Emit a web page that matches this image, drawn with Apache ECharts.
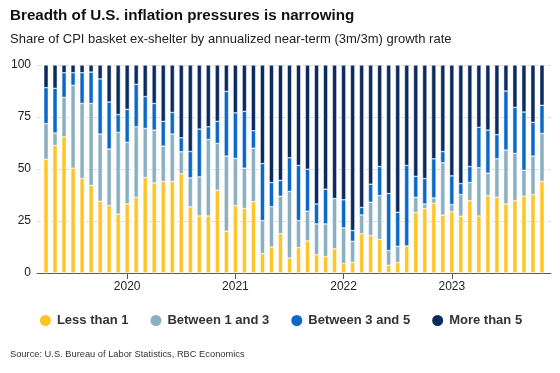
<!DOCTYPE html>
<html><head><meta charset="utf-8">
<script src="https://cdn.jsdelivr.net/npm/echarts@6/dist/echarts.min.js"></script>
<style>html,body{margin:0;padding:0;background:#fff}#c{width:560px;height:373px}</style>
</head><body><div id="c"></div>
<script>
// Months Apr 2019 .. Nov 2023
var months = [];
(function(){ var y=2019,m=4; while(y<2023||(y===2023&&m<=11)){ months.push(y+'-'+(m<10?'0':'')+m); m++; if(m>12){m=1;y++;} } })();

var lessThan1 = [54.6,61.3,65.5,50.4,45.4,42.1,34.5,32.4,28.3,33.2,36.4,45.9,43.3,44.0,44.0,47.7,31.8,27.4,27.4,39.8,20.1,32.4,31.0,34.3,9.3,12.5,18.9,7.2,12.2,15.4,8.8,7.9,11.6,4.5,5.1,18.9,18.0,16.1,3.7,5.0,13.0,29.1,31.0,33.5,27.8,29.5,27.3,34.8,27.4,37.2,36.4,33.2,34.8,36.9,37.7,44.0];
var between1and3 = [17.2,6.0,18.9,39.8,36.1,39.4,32.3,27.2,39.3,29.6,33.9,23.6,25.4,17.0,22.8,10.6,13.9,18.8,36.8,22.5,36.1,22.7,19.4,25.7,15.9,19.4,18.0,32.0,13.0,14.3,14.8,15.7,24.2,17.2,10.1,9.0,16.0,21.1,7.1,7.8,0,7.3,2.2,2.6,25.2,3.4,10.4,8.7,23.2,10.8,18.5,25.9,22.7,12.5,18.5,23.1];
var between3and5 = [17.3,21.5,11.9,6.1,14.8,15.1,26.5,22.6,8.6,15.9,20.4,15.3,12.8,11.9,10.4,6.7,12.7,23.0,6.1,10.6,31.1,21.9,27.3,8.4,27.4,11.6,7.6,16.2,26.5,20.2,9.6,16.7,0,13.5,5.2,3.6,8.7,14.0,27.4,16.4,38.7,10.1,12.2,18.8,5.4,13.8,5.3,7.7,19.4,20.7,11.6,28.4,22.1,28.0,16.2,13.5];
var moreThan5 = [10.9,11.2,3.7,3.7,3.7,3.4,6.7,17.8,23.8,21.3,9.3,15.2,18.5,27.1,22.8,35.0,41.6,30.8,29.7,27.1,12.7,23.0,22.3,31.6,47.4,56.5,55.5,44.6,48.3,50.1,66.8,59.7,64.2,64.8,79.6,68.5,57.3,48.8,61.8,70.8,48.3,53.5,54.6,45.1,41.6,53.3,57.0,48.8,30.0,31.3,33.5,12.5,20.4,22.6,27.6,19.4];
var yTicks = [0,25,50,75,100];
var seriesNames = ['Less than 1','Between 1 and 3','Between 3 and 5','More than 5'];
var colors = ['#FFC425','#8AAFC0','#0A69C6','#0B2B5E'];

// pad one empty slot on each side
var cats = [''].concat(months).concat(['']);
function pad(a){ return [null].concat(a).concat([null]); }
var lists = [lessThan1, between1and3, between3and5, moreThan5];

var chart = echarts.init(document.getElementById('c'), null, {renderer:'canvas'});
var font = 'Liberation Sans, Arial, sans-serif';
chart.setOption({
  animation:false,
  color: colors,
  textStyle:{fontFamily:font},
  title:[
    {text:'Breadth of U.S. inflation pressures is narrowing', left:10, top:8, padding:0,
     textStyle:{fontSize:15.2, fontWeight:'bold', color:'#111', fontFamily:font}},
    {text:'Share of CPI basket ex-shelter by annualized near-term (3m/3m) growth rate', left:10, top:33, padding:0,
     textStyle:{fontSize:13, fontWeight:'normal', color:'#222', fontFamily:font}},
    {text:'Source: U.S. Bureau of Labor Statistics, RBC Economics', left:10, top:350, padding:0,
     textStyle:{fontSize:9.3, fontWeight:'normal', color:'#333', fontFamily:font}}
  ],
  legend:{left:'center', top:308, icon:'circle', itemWidth:13, itemHeight:13, itemGap:20,
    data: seriesNames,
    textStyle:{fontSize:13, fontWeight:'bold', color:'#333', fontFamily:font}},
  grid:{left:37, right:9, top:65, bottom:100},
  xAxis:{type:'category', data:cats, boundaryGap:false,
    axisLine:{lineStyle:{color:'#555'}},
    axisTick:{length:6, lineStyle:{color:'#555'}, interval:function(i,v){return /-01$/.test(v);}},
    axisLabel:{interval:function(i,v){return /-01$/.test(v);}, formatter:function(v){return v.slice(0,4);},
      color:'#222', fontSize:12, margin:8, fontFamily:font}},
  yAxis:{type:'value', min:0, max:100, interval:25,
    axisLine:{show:false}, axisTick:{show:false},
    axisLabel:{color:'#222', fontSize:12, margin:6, fontFamily:font},
    splitLine:{lineStyle:{color:'#ddd', type:[4,3]}}},
  series: seriesNames.map(function(n,k){
    return {name:n, type:'bar', stack:'all', data:pad(lists[k]), barWidth:4.5,
      itemStyle:{color:colors[k], borderColor:'#fff', borderWidth:0.5}};
  })
});
</script></body></html>
